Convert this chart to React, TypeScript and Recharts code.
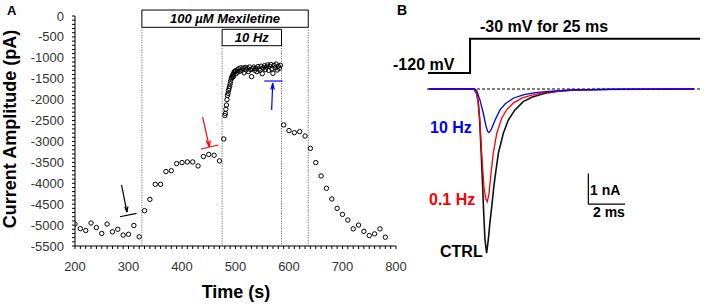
import React from "react";
import {
  ScatterChart,
  Scatter,
  LineChart,
  Line,
  XAxis,
  YAxis,
  ReferenceLine,
  ReferenceArea,
  Label,
} from "recharts";

// Panel A: peak current (pA) vs time (s), one sample every 10 s except during 10 Hz train
const CONTROL_POINTS: [number, number][] = [
  [200, -4975], [210, -5085], [220, -5130], [230, -4950], [240, -5060],
  [250, -5200], [260, -4975], [270, -5160], [280, -5100], [290, -5240],
  [300, -5220], [310, -5010], [320, -5280],
];

const MEXILETINE_POINTS: [number, number][] = [
  [330, -4655], [340, -4385], [350, -4025], [360, -4025], [370, -3720],
  [380, -3700], [390, -3530], [400, -3505], [410, -3490], [420, -3490],
  [430, -3585], [440, -3360], [450, -3310], [460, -3330], [470, -3465],
];

const TRAIN_10HZ_POINTS: [number, number][] = [
  [478, -2940], [480, -2380], [481, -2330], [482, -2230], [483, -2130],
  [484, -2000], [485, -1900], [486, -1850], [487, -1780], [488, -1730],
  [489, -1680], [490, -1620], [491, -1560], [492, -1500], [493, -1470],
  [494, -1440], [495, -1400], [496, -1450], [497, -1360], [498, -1330],
  [500, -1310], [501, -1380], [503, -1290], [504, -1340], [506, -1260],
  [508, -1320], [510, -1240], [512, -1300], [514, -1250], [516, -1360],
  [518, -1230], [520, -1290], [522, -1250], [524, -1330], [526, -1220],
  [528, -1280], [530, -1450], [532, -1260], [534, -1220], [536, -1300],
  [538, -1250], [540, -1330], [542, -1210], [544, -1270], [546, -1300],
  [548, -1200], [550, -1380], [552, -1240], [554, -1190], [556, -1280],
  [558, -1220], [560, -1170], [562, -1300], [564, -1200], [566, -1160],
  [568, -1260], [570, -1370], [572, -1180], [574, -1240], [576, -1150],
  [578, -1290], [580, -1200], [582, -1250], [584, -1180],
];

const RECOVERY_POINTS: [number, number][] = [
  [590, -2605], [600, -2740], [610, -2790], [620, -2765], [630, -2870],
  [640, -3165], [650, -3505], [660, -3825], [670, -4120], [680, -4375],
  [690, -4600], [700, -4745], [710, -4880], [720, -5090], [730, -5000],
  [740, -5150], [750, -5250], [760, -5210], [770, -5090], [780, -5290],
];

// drug / stimulation periods (s)
const MEXILETINE_PERIOD = [325, 636];
const TRAIN_PERIOD = [475, 586];

const X_LABELS = [200, 300, 400, 500, 600, 700, 800];
const Y_LABELS = [0, -500, -1000, -1500, -2000, -2500, -3000, -3500, -4000, -4500, -5000, -5500];

// Panel B: current traces (ms, nA)
const CTRL_TRACE: [number, number][] = [
  [0.1, 0], [2.0, 0.01], [2.55, 0], [2.7, -0.15], [2.78, -0.4], [2.86, -1.0],
  [2.93, -1.87], [3.01, -2.96], [3.08, -4.0], [3.15, -4.89], [3.24, -5.35],
  [3.33, -4.92], [3.42, -4.35], [3.52, -3.83], [3.61, -3.3], [3.7, -2.86],
  [3.88, -2.09], [4.15, -1.44], [4.42, -1.01], [4.78, -0.68], [5.23, -0.41],
  [5.69, -0.27], [6.41, -0.14], [7.14, -0.07], [8.04, -0.03], [10, -0.01], [14.5, 0],
];

const HZ01_TRACE: [number, number][] = [
  [0.1, 0], [2.55, 0], [2.7, -0.15], [2.78, -0.4], [2.87, -1.0], [2.94, -1.75],
  [3.02, -2.55], [3.1, -3.2], [3.19, -3.58], [3.28, -3.67], [3.37, -3.4],
  [3.48, -2.75], [3.6, -2.1], [3.79, -1.45], [4.06, -0.95], [4.33, -0.68],
  [4.69, -0.46], [5.15, -0.3], [5.69, -0.2], [6.41, -0.11], [7.5, -0.05],
  [9.5, -0.02], [14.5, 0],
];

const HZ10_TRACE: [number, number][] = [
  [0.1, 0], [2.6, 0], [2.7, -0.05], [2.88, -0.36], [3.06, -0.79], [3.21, -1.22],
  [3.3, -1.38], [3.37, -1.42], [3.45, -1.36], [3.52, -1.28], [3.7, -1.01],
  [3.97, -0.68], [4.24, -0.49], [4.69, -0.3], [5.23, -0.19], [5.87, -0.12],
  [6.78, -0.07], [7.86, -0.03], [10, -0.01], [14.5, 0],
];

// voltage protocol (ms, mV)
const VOLTAGE_STEP: [number, number][] = [
  [0.05, -120], [2.34, -120], [2.34, -30], [14.84, -30],
];

// scale bar origin (ms, nA) and lengths
const SCALE_BAR = { t: 8.77, i: -3.75, dt: 2, di: 1 };

const FONT = "'Liberation Sans', Arial, sans-serif";

const toPts = (arr: [number, number][]) => arr.map(([t, v]) => ({ t, v }));

const xTicks: number[] = [];
for (let t = 200; t <= 800; t += 10) xTicks.push(t);
const yTicks: number[] = [];
for (let v = 0; v >= -5500; v -= 100) yTicks.push(v);

const Ring = (p: any) => (
  <circle cx={p.cx} cy={p.cy} r={2.2} fill="none" stroke="#000" strokeWidth={1} />
);

const XTick = ({ x, y, payload }: any) =>
  X_LABELS.includes(payload.value) ? (
    <text x={x} y={y} dy={9.5} textAnchor="middle" fontSize={13} fill="#333" fontFamily={FONT}>
      {payload.value}
    </text>
  ) : (
    <g />
  );

const YTick = ({ x, y, payload }: any) =>
  Y_LABELS.includes(payload.value) ? (
    <text x={x} y={y} dy={4.5} textAnchor="end" fontSize={13} fill="#333" fontFamily={FONT}>
      {payload.value}
    </text>
  ) : (
    <g />
  );

function seg(x1: number, y1: number, x2: number, y2: number, color: string, key: string) {
  return (
    <ReferenceLine
      key={key}
      segment={[{ x: x1, y: y1 }, { x: x2, y: y2 }]}
      stroke={color}
      strokeWidth={1.2}
      ifOverflow="visible"
    />
  );
}

function PanelA() {
  const dotted = { stroke: "#555", strokeWidth: 1, strokeDasharray: "1 1.5", ifOverflow: "visible" as const };
  return (
    <ScatterChart width={420} height={305} margin={{ top: 16, right: 24, bottom: 29, left: 15 }}>
      <XAxis
        type="number"
        dataKey="t"
        domain={[200, 800]}
        ticks={xTicks}
        interval={0}
        tick={<XTick />}
        tickSize={3}
        tickMargin={12}
        height={30}
        stroke="#000"
        allowDataOverflow
      />
      <YAxis
        type="number"
        dataKey="v"
        domain={[-5500, 0]}
        ticks={yTicks}
        interval={0}
        tick={<YTick />}
        tickSize={3}
        tickMargin={8}
        width={60}
        stroke="#000"
        allowDataOverflow
      />
      {[MEXILETINE_PERIOD[0], MEXILETINE_PERIOD[1]].map((t) => (
        <ReferenceLine key={"m" + t} segment={[{ x: t, y: -270 }, { x: t, y: -5500 }]} {...dotted} />
      ))}
      {[TRAIN_PERIOD[0], TRAIN_PERIOD[1]].map((t) => (
        <ReferenceLine key={"h" + t} segment={[{ x: t, y: -710 }, { x: t, y: -5500 }]} {...dotted} />
      ))}
      <ReferenceArea
        x1={MEXILETINE_PERIOD[0]}
        x2={MEXILETINE_PERIOD[1]}
        y1={143}
        y2={-270}
        fill="#fff"
        fillOpacity={1}
        stroke="#000"
        strokeWidth={1}
        ifOverflow="visible"
      >
        <Label value="100 µM Mexiletine" position="center" fontSize={13} fontWeight="bold" fontStyle="italic" fill="#000" fontFamily={FONT} />
      </ReferenceArea>
      <ReferenceArea
        x1={TRAIN_PERIOD[0]}
        x2={TRAIN_PERIOD[1]}
        y1={-318}
        y2={-710}
        fill="#fff"
        fillOpacity={1}
        stroke="#000"
        strokeWidth={1}
        ifOverflow="visible"
      >
        <Label value="10 Hz" position="center" fontSize={13} fontWeight="bold" fontStyle="italic" fill="#000" fontFamily={FONT} />
      </ReferenceArea>
      {/* black arrow: control */}
      {seg(287, -4040, 297, -4690, "#000", "k1")}
      {seg(297, -4690, 293, -4560, "#000", "k2")}
      {seg(297, -4690, 299, -4550, "#000", "k3")}
      {seg(284, -4800, 315, -4720, "#000", "k4")}
      {/* red arrow: 0.1 Hz in mexiletine */}
      {seg(438.5, -2420, 451, -3125, "#ff0000", "r1")}
      {seg(451, -3125, 445, -2980, "#ff0000", "r2")}
      {seg(451, -3125, 453, -2975, "#ff0000", "r3")}
      {seg(435.5, -3180, 468, -3085, "#ff0000", "r4")}
      {/* blue arrow: 10 Hz */}
      {seg(567.6, -2250, 569.5, -1610, "#0000ff", "b1")}
      {seg(569.5, -1610, 566, -1760, "#0000ff", "b2")}
      {seg(569.5, -1610, 572.5, -1760, "#0000ff", "b3")}
      {seg(553.8, -1555, 588, -1555, "#0000ff", "b4")}
      <Scatter data={toPts(CONTROL_POINTS)} shape={Ring} isAnimationActive={false} />
      <Scatter data={toPts(MEXILETINE_POINTS)} shape={Ring} isAnimationActive={false} />
      <Scatter data={toPts(TRAIN_10HZ_POINTS)} shape={Ring} isAnimationActive={false} />
      <Scatter data={toPts(RECOVERY_POINTS)} shape={Ring} isAnimationActive={false} />
    </ScatterChart>
  );
}

function PanelB() {
  return (
    <LineChart width={304} height={305} margin={{ top: 20, right: 4, bottom: 25, left: 27 }}>
      <XAxis type="number" dataKey="t" domain={[0, 14.84]} hide allowDataOverflow />
      <YAxis yAxisId="i" type="number" dataKey="v" domain={[-6.221, 2.248]} hide allowDataOverflow />
      <YAxis yAxisId="mv" type="number" dataKey="v" domain={[-663.2, 19.07]} hide allowDataOverflow />
      <ReferenceLine yAxisId="i" y={0} stroke="#000" strokeWidth={1.2} strokeDasharray="3 2" />
      <Line yAxisId="mv" data={toPts(VOLTAGE_STEP)} dataKey="v" stroke="#000" strokeWidth={2} dot={false} isAnimationActive={false} />
      <Line yAxisId="i" data={toPts(CTRL_TRACE)} dataKey="v" stroke="#111" strokeWidth={1.6} dot={false} isAnimationActive={false} />
      <Line yAxisId="i" data={toPts(HZ01_TRACE)} dataKey="v" stroke="#ff0000" strokeWidth={1.3} dot={false} isAnimationActive={false} />
      <Line yAxisId="i" data={toPts(HZ10_TRACE)} dataKey="v" stroke="#0000ff" strokeWidth={1.3} dot={false} isAnimationActive={false} />
      <ReferenceLine
        yAxisId="i"
        segment={[{ x: SCALE_BAR.t, y: SCALE_BAR.i + SCALE_BAR.di }, { x: SCALE_BAR.t, y: SCALE_BAR.i }]}
        stroke="#000"
        strokeWidth={1.2}
      />
      <ReferenceLine
        yAxisId="i"
        segment={[{ x: SCALE_BAR.t, y: SCALE_BAR.i }, { x: SCALE_BAR.t + SCALE_BAR.dt, y: SCALE_BAR.i }]}
        stroke="#000"
        strokeWidth={1.2}
      />
    </LineChart>
  );
}

export default function App() {
  const bold = { fontFamily: FONT, fontWeight: "bold" as const };
  return (
    <div style={{ position: "absolute", left: 0, top: 0, width: 704, height: 305, background: "#fff", overflow: "hidden" }}>
      <div style={{ position: "absolute", left: 0, top: 0 }}>
        <PanelA />
      </div>
      <div style={{ position: "absolute", left: 400, top: 0 }}>
        <PanelB />
      </div>
      <svg width={704} height={305} style={{ position: "absolute", left: 0, top: 0, pointerEvents: "none" }}>
        <text x={7} y={15} fontSize={13} {...bold}>A</text>
        <text x={16} y={129} fontSize={18} textAnchor="middle" transform="rotate(-90 16 129)" {...bold}>
          Current Amplitude (pA)
        </text>
        <text x={236} y={298} fontSize={18} textAnchor="middle" {...bold}>Time (s)</text>
        <text x={397} y={15} fontSize={14} {...bold}>B</text>
        <text x={480} y={32} fontSize={16} {...bold}>-30 mV for 25 ms</text>
        <text x={393} y={70} fontSize={16} {...bold}>-120 mV</text>
        <text x={430} y={133} fontSize={16} fill="#0000ff" {...bold}>10 Hz</text>
        <text x={429} y={205} fontSize={16} fill="#ff0000" {...bold}>0.1 Hz</text>
        <text x={440} y={257} fontSize={16} {...bold}>CTRL</text>
        <text x={590} y={195} fontSize={14} {...bold}>1 nA</text>
        <text x={593} y={217} fontSize={14} {...bold}>2 ms</text>
      </svg>
    </div>
  );
}
